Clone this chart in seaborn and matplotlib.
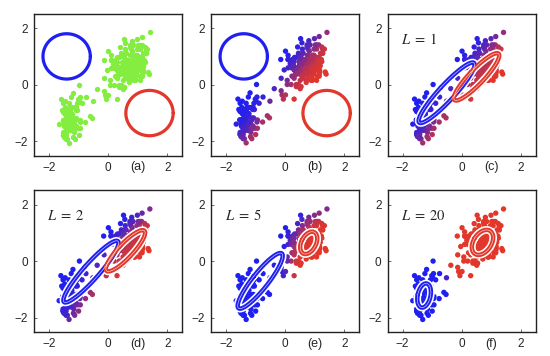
import numpy as np
import pandas as pd
import seaborn as sns
import matplotlib.pyplot as plt
from matplotlib.colors import LinearSegmentedColormap

# Old Faithful data (eruption duration in minutes, waiting time in minutes)
eruptions = [3.600, 1.800, 3.333, 2.283, 4.533, 2.883, 4.700, 3.600, 1.950, 4.350, 1.833, 3.917, 4.200, 1.750,
             4.700, 2.167, 1.750, 4.800, 1.600, 4.250, 1.800, 1.750, 3.450, 3.067, 4.533, 3.600, 1.967, 4.083,
             3.850, 4.433, 4.300, 4.467, 3.367, 4.033, 3.833, 2.017, 1.867, 4.833, 1.833, 4.783, 4.350, 1.883,
             4.567, 1.750, 4.533, 3.317, 3.833, 2.100, 4.633, 2.000, 4.800, 4.716, 1.833, 4.833, 1.733, 4.883,
             3.717, 1.667, 4.567, 4.317, 2.233, 4.500, 1.750, 4.800, 1.817, 4.400, 4.167, 4.700, 2.067, 4.700,
             4.033, 1.967, 4.500, 4.000, 1.983, 5.067, 2.017, 4.567, 3.883, 3.600, 4.133, 4.333, 4.100, 2.633,
             4.067, 4.933, 3.950, 4.517, 2.167, 4.000, 2.200, 4.333, 1.867, 4.817, 1.833, 4.300, 4.667, 3.750,
             1.867, 4.900, 2.483, 4.367, 2.100, 4.500, 4.050, 1.867, 4.700, 1.783, 4.850, 3.683, 4.733, 2.300,
             4.900, 4.417, 1.700, 4.633, 2.317, 4.600, 1.817, 4.417, 2.617, 4.067, 4.250, 1.967, 4.600, 3.767,
             1.917, 4.500, 2.267, 4.650, 1.867, 4.167, 2.800, 4.333, 1.833, 4.383, 1.883, 4.933, 2.033, 3.733,
             4.233, 2.233, 4.533, 4.817, 4.333, 1.983, 4.633, 2.017, 5.100, 1.800, 5.033, 4.000, 2.400, 4.600,
             3.567, 4.000, 4.500, 4.083, 1.800, 3.967, 2.200, 4.150, 2.000, 3.833, 3.500, 4.583, 2.367, 5.000,
             1.933, 4.617, 1.917, 2.083, 4.583, 3.333, 4.167, 4.333, 4.500, 2.417, 4.000, 4.167, 1.883, 4.583,
             4.250, 3.767, 2.033, 4.433, 4.083, 1.833, 4.417, 2.183, 4.800, 1.833, 4.800, 4.100, 3.966, 4.233,
             3.500, 4.366, 2.250, 4.667, 2.100, 4.350, 4.133, 1.867, 4.600, 1.783, 4.367, 3.850, 1.933, 4.500,
             2.383, 4.700, 1.867, 3.833, 3.417, 4.233, 2.400, 4.800, 2.000, 4.150, 1.867, 4.267, 1.750, 4.483,
             4.000, 4.117, 4.083, 4.267, 3.917, 4.550, 4.083, 2.417, 4.183, 2.217, 4.450, 1.883, 1.850, 4.283,
             3.950, 2.333, 4.150, 2.350, 4.933, 2.900, 4.583, 3.833, 2.083, 4.367, 2.133, 4.350, 2.200, 4.450,
             3.567, 4.500, 4.150, 3.817, 3.917, 4.450, 2.000, 4.283, 4.767, 4.533, 1.850, 4.250, 1.983, 2.250,
             4.750, 4.117, 2.150, 4.417, 1.817, 4.467]
waiting = [79, 54, 74, 62, 85, 55, 88, 85, 51, 85, 54, 84, 78, 47, 83, 52, 62, 84, 52, 79, 51, 47, 78, 69, 74,
           83, 55, 76, 78, 79, 73, 77, 66, 80, 74, 52, 48, 80, 59, 90, 80, 58, 84, 58, 73, 83, 64, 53, 82, 59,
           75, 90, 54, 80, 54, 83, 71, 64, 77, 81, 59, 84, 48, 82, 60, 92, 78, 78, 65, 73, 82, 56, 79, 71, 62,
           76, 60, 78, 76, 83, 75, 82, 70, 65, 73, 88, 76, 80, 48, 86, 60, 90, 50, 78, 63, 72, 84, 75, 51, 82,
           62, 88, 49, 83, 81, 47, 84, 52, 86, 81, 75, 59, 89, 79, 59, 81, 50, 85, 59, 87, 53, 69, 77, 56, 88,
           81, 45, 82, 55, 90, 45, 83, 56, 89, 46, 82, 51, 86, 53, 79, 81, 60, 82, 77, 76, 59, 80, 49, 96, 53,
           77, 77, 65, 81, 71, 70, 81, 93, 53, 89, 45, 86, 58, 78, 66, 76, 63, 88, 52, 93, 49, 57, 77, 68, 81,
           81, 73, 50, 85, 74, 55, 77, 83, 83, 51, 78, 84, 46, 83, 55, 81, 57, 76, 84, 77, 81, 87, 77, 51, 78,
           60, 82, 91, 53, 78, 46, 77, 84, 49, 83, 71, 80, 49, 75, 64, 76, 53, 94, 55, 76, 50, 82, 54, 75, 78,
           79, 78, 78, 70, 79, 70, 54, 86, 50, 90, 54, 54, 77, 79, 64, 75, 47, 86, 63, 85, 82, 57, 82, 67, 74,
           54, 83, 73, 73, 88, 80, 71, 83, 56, 79, 78, 84, 58, 83, 43, 60, 75, 81, 46, 90, 46, 74]

# initial mixture: blue component, red component
init_means = [[-1.4, 1.0], [1.4, -1.0]]
init_sigma = 0.8
init_mix = [0.5, 0.5]

panel_iters = [None, 0, 1, 2, 5, 20]   # None = raw data, 0 = initial E step
panel_labels = ['(a)', '(b)', '(c)', '(d)', '(e)', '(f)']

BLUE = '#1f1ff2'
RED = '#e2372a'
GREEN = '#84ee40'

df = pd.DataFrame({'eruptions': eruptions, 'waiting': waiting})
df['x'] = (df['eruptions'] - df['eruptions'].mean()) / df['eruptions'].std()
df['y'] = (df['waiting'] - df['waiting'].mean()) / df['waiting'].std()
X = df[['x', 'y']].to_numpy()


def gauss(X, m, S):
    d = X - m
    inv = np.linalg.inv(S)
    q = np.sum(d @ inv * d, axis=1)
    return np.exp(-0.5 * q) / (2 * np.pi * np.sqrt(np.linalg.det(S)))


def e_step(params):
    means, covs, mix = params
    p0 = mix[0] * gauss(X, means[0], covs[0])
    p1 = mix[1] * gauss(X, means[1], covs[1])
    return p1 / (p0 + p1)   # responsibility of the red component


def m_step(r_red):
    means, covs, mix = [], [], []
    for r in [1 - r_red, r_red]:
        nk = r.sum()
        m = (r[:, None] * X).sum(axis=0) / nk
        d = X - m
        S = (r[:, None] * d).T @ d / nk
        means.append(m)
        covs.append(S)
        mix.append(nk / len(X))
    return means, covs, mix


def draw_ellipse(ax, m, S, color, fancy):
    vals, vecs = np.linalg.eigh(S)
    t = np.linspace(0, 2 * np.pi, 200)
    circ = np.stack([np.cos(t), np.sin(t)])
    pts = vecs @ (np.sqrt(vals)[:, None] * circ) + np.asarray(m)[:, None]
    if fancy:
        # white halo, thick coloured line, thin white core
        ax.plot(pts[0], pts[1], color='white', lw=5.5, zorder=3)
        ax.plot(pts[0], pts[1], color=color, lw=3.2, zorder=4)
        ax.plot(pts[0], pts[1], color='white', lw=0.45, alpha=0.8, zorder=5)
    else:
        ax.plot(pts[0], pts[1], color=color, lw=2.3, zorder=4)


init_params = ([np.array(m) for m in init_means],
               [init_sigma ** 2 * np.eye(2), init_sigma ** 2 * np.eye(2)],
               init_mix)

cmap = LinearSegmentedColormap.from_list('br', [BLUE, RED])

sns.set_style('white')
plt.rcParams['font.family'] = ['Liberation Sans', 'DejaVu Sans']
plt.rcParams['mathtext.fontset'] = 'stix'
fig = plt.figure(figsize=(5.5, 3.56), dpi=100)

lefts = [0.062, 0.384, 0.705]
bottoms = [0.563, 0.067]
w, h = 0.269, 0.398

for i, n_iter in enumerate(panel_iters):
    ax = fig.add_axes([lefts[i % 3], bottoms[i // 3], w, h])
    if n_iter is None:
        sns.scatterplot(data=df, x='x', y='y', color=GREEN, s=15, linewidth=0, ax=ax, zorder=2)
        params = init_params
        fancy = False
    else:
        params = init_params
        resp = e_step(params)
        for _ in range(n_iter):
            resp = e_step(params)
            params = m_step(resp)
        df['r'] = resp
        sns.scatterplot(data=df, x='x', y='y', hue='r', palette=cmap, hue_norm=(0, 1),
                        s=15, linewidth=0, legend=False, ax=ax, zorder=2)
        fancy = n_iter > 0
    means, covs, mix = params
    draw_ellipse(ax, means[0], covs[0], BLUE, fancy)
    draw_ellipse(ax, means[1], covs[1], RED, fancy)

    if n_iter:
        ax.text(-2.05, 1.6, '$L\\;=\\;%d$' % n_iter, fontsize=10.5, va='center', ha='left')

    ax.set_xlim(-2.5, 2.5)
    ax.set_ylim(-2.5, 2.5)
    ax.set_xticks([-2, 0, 2])
    ax.set_yticks([-2, 0, 2])
    ax.set_xticklabels(['\u22122', '0', '2'])
    ax.set_yticklabels(['\u22122', '0', '2'])
    ax.tick_params(direction='in', length=2.5, width=0.6, labelsize=8.5, pad=4.5, color='#555555',
                   bottom=True, left=True)
    ax.set_xlabel('')
    ax.set_ylabel('')
    for sp in ax.spines.values():
        sp.set_color('#222222')
        sp.set_linewidth(1.0)
    ax.text(0.7, -0.04, panel_labels[i], transform=ax.transAxes, ha='center', va='top', fontsize=9)

fig.savefig('out.png', dpi=100, facecolor='white')
